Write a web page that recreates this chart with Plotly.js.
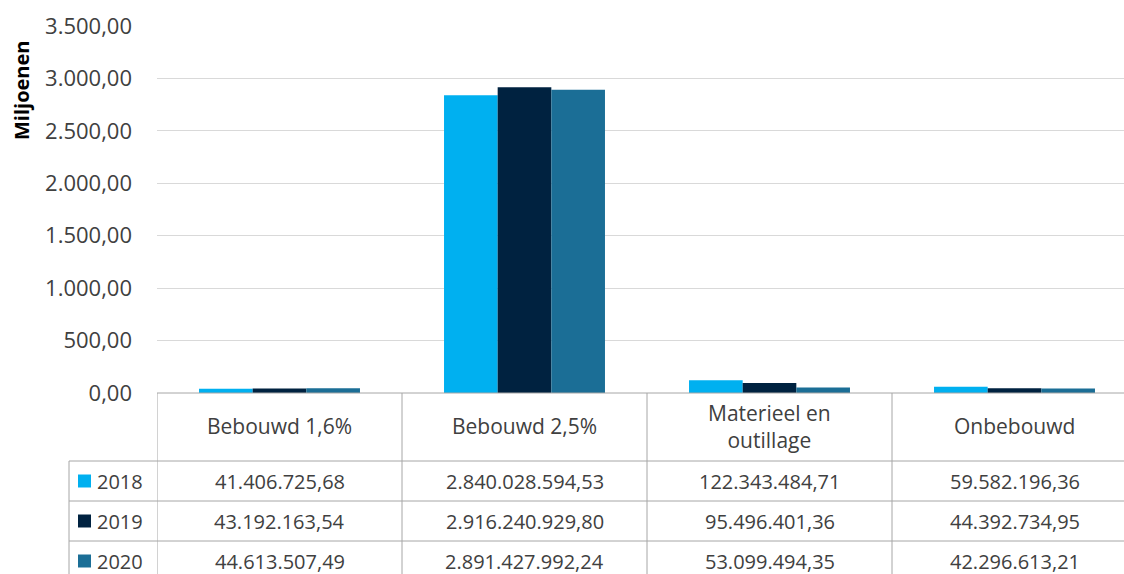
<!DOCTYPE html>
<html>
<head>
<meta charset="utf-8">
<script src="https://cdn.plot.ly/plotly-3.0.1.min.js"></script>
<style>
html,body{margin:0;padding:0;overflow:hidden;background:#fff;}
#chart{width:1140px;height:574px;}
</style>
</head>
<body>
<div id="chart"></div>
<script>
// ---- data ----
const categories = ['Bebouwd 1,6%', 'Bebouwd 2,5%', 'Materieel en<br>outillage', 'Onbebouwd'];
const years = ['2018', '2019', '2020'];
const values2018 = [41406725.68, 2840028594.53, 122343484.71, 59582196.36];
const values2019 = [43192163.54, 2916240929.80, 95496401.36, 44392734.95];
const values2020 = [44613507.49, 2891427992.24, 53099494.35, 42296613.21];
const yTicks = [0, 500, 1000, 1500, 2000, 2500, 3000, 3500];
const yTitle = 'Miljoenen';
const colors = ['#00B0F0', '#002240', '#1B6E96'];
const series = [values2018, values2019, values2020];

// ---- layout geometry (pixels) ----
const W = 1140, H = 574;
const L = 157, R = 1137, T = 26, B = 393;
const headerBottom = 461, rowH = 40, legendLeft = 69;
const px2x = p => (p - L) / (R - L);
const px2y = p => (B - p) / (B - T);

function fmt(v) {
  const parts = v.toFixed(2).split('.');
  return parts[0].replace(/\B(?=(\d{3})+(?!\d))/g, '.') + ',' + parts[1];
}

const FONT = '"Open Sans", "Noto Sans", sans-serif';
const TXT = '#404040';
const LINE = '#a6a6a6';

const traces = years.map((yr, k) => ({
  type: 'bar',
  name: yr,
  x: categories.map((c, i) => i),
  y: series[k].map(v => v / 1e6),
  marker: {color: colors[k], line: {width: 0}},
  hoverinfo: 'none'
}));

const shapes = [];
const annotations = [];
const lineStyle = {color: LINE, width: 1};
// table top border
shapes.push({type: 'line', xref: 'paper', yref: 'paper', x0: 0, x1: 1, y0: 0, y1: 0, line: lineStyle});
// vertical lines at category boundaries
for (let i = 0; i <= categories.length; i++) {
  shapes.push({type: 'line', xref: 'x', yref: 'paper', x0: i - 0.5, x1: i - 0.5, y0: 0, y1: px2y(H + 20), line: lineStyle});
}
// left border of legend column
shapes.push({type: 'line', xref: 'paper', yref: 'paper', x0: px2x(legendLeft), x1: px2x(legendLeft), y0: px2y(headerBottom), y1: px2y(H + 20), line: lineStyle});
// horizontal row lines
for (let r = 0; r <= years.length; r++) {
  const py = headerBottom + r * rowH;
  shapes.push({type: 'line', xref: 'paper', yref: 'paper', x0: px2x(legendLeft), x1: 1, y0: px2y(py), y1: px2y(py), line: lineStyle});
}
// header labels
categories.forEach((c, i) => {
  annotations.push({xref: 'x', yref: 'paper', x: i, y: px2y((B + headerBottom) / 2 - 1), text: c, showarrow: false,
    font: {family: FONT, size: 21, color: TXT}, xanchor: 'center', yanchor: 'middle', align: 'center'});
});
// rows
years.forEach((yr, k) => {
  const cy = headerBottom + k * rowH + rowH / 2;
  shapes.push({type: 'rect', xref: 'paper', yref: 'paper', x0: px2x(78), x1: px2x(91), y0: px2y(cy - 6.5), y1: px2y(cy + 6.5),
    fillcolor: colors[k], line: {width: 0}});
  annotations.push({xref: 'paper', yref: 'paper', x: px2x(95), y: px2y(cy), text: yr, showarrow: false,
    font: {family: FONT, size: 20, color: TXT}, xanchor: 'left', yanchor: 'middle'});
  series[k].forEach((v, i) => {
    annotations.push({xref: 'x', yref: 'paper', x: i, y: px2y(cy), text: fmt(v), showarrow: false,
      font: {family: FONT, size: 20, color: TXT}, xanchor: 'center', yanchor: 'middle'});
  });
});
// y axis title (placed near the top, as in the original)
annotations.push({xref: 'paper', yref: 'paper', x: px2x(22), y: px2y(91), text: '<b>' + yTitle + '</b>', textangle: -90,
  showarrow: false, font: {family: FONT, size: 20, color: '#000'}, xanchor: 'center', yanchor: 'middle'});

const layout = {
  width: W, height: H,
  margin: {l: L, r: W - R, t: T, b: H - B, pad: 0},
  paper_bgcolor: '#fff', plot_bgcolor: '#fff',
  separators: ',.',
  showlegend: false,
  barmode: 'group',
  bargap: 0.343,
  bargroupgap: 0,
  font: {family: FONT, color: TXT},
  xaxis: {range: [-0.5, categories.length - 0.5], showticklabels: false, showgrid: false, zeroline: false,
    showline: false, ticks: '', fixedrange: true},
  yaxis: {range: [0, 3500], tickvals: yTicks, tickformat: ',.2f', showgrid: true, gridcolor: '#d9d9d9', gridwidth: 1,
    zeroline: false, showline: false, ticks: '', ticklabelstandoff: 24,
    tickfont: {family: FONT, size: 22, color: TXT},
    title: {text: ''},
    automargin: false, fixedrange: true},
  shapes: shapes,
  annotations: annotations
};

Plotly.newPlot('chart', traces, layout, {displayModeBar: false, staticPlot: true});
</script>
</body>
</html>
